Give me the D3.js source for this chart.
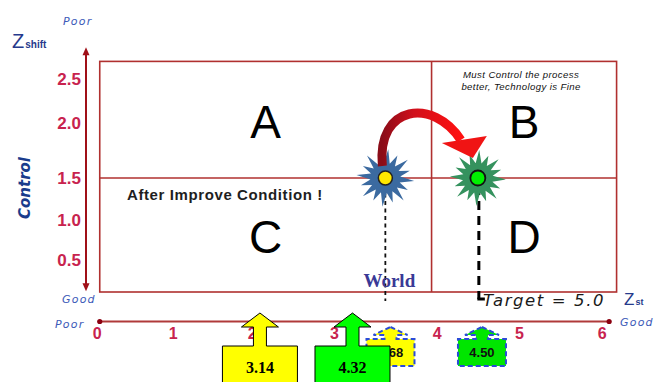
<!DOCTYPE html>
<html>
<head>
<meta charset="utf-8">
<script src="https://cdn.jsdelivr.net/npm/d3@7"></script>
<style>
  html, body { margin: 0; padding: 0; background: #fff; }
  svg { display: block; }
</style>
</head>
<body>
<svg id="chart" width="655" height="382"></svg>
<script>
// ---------------- data ----------------
const xTicks = [0, 1, 2, 3, 4, 5, 6];
const yTicks = [0.5, 1.0, 1.5, 2.0, 2.5];
const xDomain = [0.04, 6.18];          // quadrant box extent in Z_st
const yDomain = [0.1, 2.7];            // quadrant box extent in Z_shift
const xAxisExtent = [0.04, 6.09];
const yAxisExtent = [0.11, 2.86];
const zstThreshold = 3.95;
const zshiftThreshold = 1.5;
const quadrantLetters = ["A", "B", "C", "D"];
const quadrantNote = ["Must Control the process", "better, Technology is Fine"];
const pointNames = ["World", "Target"];
const pointZst = [3.5, 4.5];
const pointZshift = [1.5, 1.5];
const arrowBoxLabels = ["3.14", "4.32"];
const arrowBoxZst = [2.1, 3.18];
const calloutLabels = ["3.68", "4.50"];
const calloutZst = [3.55, 4.55];
const targetLabel = "Target = 5.0";
const afterLabel = "After Improve Condition !";

// ---------------- scales ----------------
const x = d3.scaleLinear()
  .domain(xTicks)
  .range([96.7, 172.7, 251.7, 334, 436.7, 519, 601.7]);
const y = d3.scaleLinear()
  .domain(yTicks)
  .range([260, 220, 178, 123, 79]);

const svg = d3.select("#chart");
const defs = svg.append("defs");
const grad = defs.append("linearGradient").attr("id", "redGrad")
  .attr("x1", "0%").attr("x2", "100%").attr("y1", "0%").attr("y2", "0%");
grad.append("stop").attr("offset", "0%").attr("stop-color", "#8a0c18");
grad.append("stop").attr("offset", "40%").attr("stop-color", "#d0101c");
grad.append("stop").attr("offset", "100%").attr("stop-color", "#ff1010");

const boxColor = "#b0302f";
const tickColor = "#c8234e";
const blueLabel = "#3d5ab8";
const navy = "#263a8c";

// ---------------- quadrant box ----------------
const bx0 = x(xDomain[0]), bx1 = x(xDomain[1]);
const by0 = y(yDomain[1]), by1 = y(yDomain[0]);
svg.append("rect")
  .attr("x", bx0).attr("y", by0)
  .attr("width", bx1 - bx0).attr("height", by1 - by0)
  .attr("fill", "none").attr("stroke", boxColor).attr("stroke-width", 1.6);
svg.append("line")
  .attr("x1", x(zstThreshold)).attr("x2", x(zstThreshold))
  .attr("y1", by0).attr("y2", by1)
  .attr("stroke", boxColor).attr("stroke-width", 1.6);
svg.append("line")
  .attr("x1", bx0).attr("x2", bx1)
  .attr("y1", y(zshiftThreshold)).attr("y2", y(zshiftThreshold))
  .attr("stroke", boxColor).attr("stroke-width", 1.6);

// quadrant letters at quadrant centres
const qx = [(bx0 + x(zstThreshold)) / 2, (x(zstThreshold) + bx1) / 2];
const qy = [(by0 + y(zshiftThreshold)) / 2 + 2, (y(zshiftThreshold) + by1) / 2 + 2];
quadrantLetters.forEach((L, i) => {
  svg.append("text")
    .attr("x", qx[i % 2]).attr("y", qy[Math.floor(i / 2)])
    .attr("text-anchor", "middle").attr("dominant-baseline", "central")
    .attr("font-family", "Liberation Sans, Arial, sans-serif")
    .attr("font-size", 46).attr("fill", "#000").text(L);
});

// note in quadrant B
quadrantNote.forEach((t, i) => {
  svg.append("text")
    .attr("x", qx[1] - 3).attr("y", by0 + 17 + i * 12)
    .attr("text-anchor", "middle")
    .attr("font-family", "Liberation Sans, Arial, sans-serif")
    .attr("font-style", "italic").attr("font-size", 9.6)
    .attr("letter-spacing", 0.4)
    .attr("fill", "#111").text(t);
});

// ---------------- Y axis (double arrow) ----------------
const yAxisX = 86;
const ya0 = y(yAxisExtent[1]), ya1 = y(yAxisExtent[0]);
svg.append("line")
  .attr("x1", yAxisX).attr("x2", yAxisX).attr("y1", ya0 + 3).attr("y2", ya1 - 3)
  .attr("stroke", "#a01018").attr("stroke-width", 2);
svg.append("path")
  .attr("d", `M${yAxisX},${ya0} L${yAxisX - 3.5},${ya0 + 8} L${yAxisX + 3.5},${ya0 + 8} Z`)
  .attr("fill", "#a01018");
svg.append("path")
  .attr("d", `M${yAxisX},${ya1} L${yAxisX - 3.5},${ya1 - 8} L${yAxisX + 3.5},${ya1 - 8} Z`)
  .attr("fill", "#a01018");

const yAxisG = svg.append("g").attr("transform", "translate(84,0)")
  .call(d3.axisLeft(y).tickValues(yTicks).tickSize(0).tickPadding(3)
    .tickFormat(d3.format(".1f")));
yAxisG.select(".domain").remove();
yAxisG.selectAll("text")
  .attr("font-family", "Liberation Sans, Arial, sans-serif")
  .attr("font-weight", "bold").attr("font-size", 17)
  .attr("fill", tickColor).attr("dy", "0.3em");

// ---------------- X axis ----------------
const xAxisY = 321.5;
svg.append("line")
  .attr("x1", x(xAxisExtent[0])).attr("x2", x(xAxisExtent[1]))
  .attr("y1", xAxisY).attr("y2", xAxisY)
  .attr("stroke", "#b03a3a").attr("stroke-width", 2);
xAxisExtent.forEach(v => {
  svg.append("circle").attr("cx", x(v)).attr("cy", xAxisY).attr("r", 2.6)
    .attr("fill", "#8b0010");
});
const xAxisG = svg.append("g").attr("transform", `translate(0,${xAxisY + 6})`)
  .call(d3.axisBottom(x).tickValues(xTicks).tickSize(0).tickPadding(0)
    .tickFormat(d3.format("d")));
xAxisG.select(".domain").remove();
xAxisG.selectAll("text")
  .attr("font-family", "Liberation Sans, Arial, sans-serif")
  .attr("font-weight", "bold").attr("font-size", 16)
  .attr("fill", tickColor).attr("dy", "0.7em");

// ---------------- axis titles ----------------
function italicBlue(txt, px, py, anchor) {
  svg.append("text").attr("x", px).attr("y", py)
    .attr("text-anchor", anchor || "start")
    .attr("font-family", "DejaVu Sans, Verdana, sans-serif")
    .attr("font-style", "italic").attr("font-size", 11)
    .attr("letter-spacing", 1.2)
    .attr("fill", blueLabel).text(txt);
}
italicBlue("Poor", 63, 25);
italicBlue("Good", 62, 303);
italicBlue("Poor", 55, 328);
italicBlue("Good", 620, 326);

const zs = svg.append("text").attr("x", 12).attr("y", 48)
  .attr("font-family", "Liberation Sans, Arial, sans-serif").attr("fill", navy);
zs.append("tspan").attr("font-size", 20).text("Z");
zs.append("tspan").attr("font-size", 10).attr("font-weight", "bold").attr("dx", 1).text("shift");

const zst = svg.append("text").attr("x", 624).attr("y", 305)
  .attr("font-family", "Liberation Sans, Arial, sans-serif").attr("fill", navy);
zst.append("tspan").attr("font-size", 17).text("Z");
zst.append("tspan").attr("font-size", 9).attr("font-weight", "bold").attr("dx", 1).text("st");

svg.append("text")
  .attr("transform", "translate(30,188) rotate(-90)")
  .attr("text-anchor", "middle")
  .attr("font-family", "DejaVu Sans, sans-serif")
  .attr("font-style", "italic").attr("font-weight", "bold")
  .attr("font-size", 15).attr("fill", "#1a3c8c").text("Control");

// ---------------- After improve label ----------------
svg.append("text").attr("x", 127).attr("y", 200)
  .attr("font-family", "Liberation Sans, Arial, sans-serif")
  .attr("font-weight", "bold").attr("font-size", 15)
  .attr("letter-spacing", 0.6).attr("fill", "#1e1e1e").text(afterLabel);

// ---------------- points ----------------
const P = pointZst.map((v, i) => ({ x: x(v), y: y(pointZshift[i]) }));

// dashed drop lines
svg.append("line")
  .attr("x1", P[0].x).attr("x2", P[0].x).attr("y1", P[0].y + 8).attr("y2", 301)
  .attr("stroke", "#111").attr("stroke-width", 1.8).attr("stroke-dasharray", "4,3.5");
svg.append("text").attr("x", P[0].x + 4).attr("y", 287)
  .attr("text-anchor", "middle")
  .attr("font-family", "Liberation Serif, Times New Roman, serif")
  .attr("font-weight", "bold").attr("font-size", 19)
  .attr("fill", "#3a3a96").text(pointNames[0]);
svg.append("line")
  .attr("x1", P[1].x + 1).attr("x2", P[1].x + 1).attr("y1", P[1].y + 8).attr("y2", 299)
  .attr("stroke", "#000").attr("stroke-width", 3).attr("stroke-dasharray", "9,6");
svg.append("line")
  .attr("x1", P[1].x - 0.5).attr("x2", P[1].x + 7).attr("y1", 299).attr("y2", 299)
  .attr("stroke", "#000").attr("stroke-width", 3);

svg.append("text").attr("x", 483).attr("y", 306)
  .attr("font-family", "DejaVu Sans, sans-serif")
  .attr("font-style", "italic").attr("font-size", 16.5)
  .attr("letter-spacing", 1.6).attr("fill", "#1a1a1a").text(targetLabel);

// starbursts
function burst(cx, cy, rOut, rIn, n, color, rot) {
  const pts = d3.range(n * 2).map(k => {
    const a = rot + k * Math.PI / n;
    const r = (k % 2 === 0) ? rOut * (k % 4 === 0 ? 1 : 0.88) : rIn;
    return [cx + r * Math.sin(a), cy - r * Math.cos(a)];
  });
  svg.append("path").attr("d", d3.line().curve(d3.curveLinearClosed)(pts))
    .attr("fill", color);
}
burst(P[0].x, P[0].y, 29, 15, 16, "#3b6aa0", 0.1);
burst(P[1].x, P[1].y, 28, 15, 16, "#35925e", 0.05);

// red curved arrow
const W = P[0], T = P[1];
svg.append("path")
  .attr("d", `M${W.x - 3},${W.y - 12} C${W.x - 9},${W.y - 74} ${T.x - 44},${T.y - 80} ${T.x - 17},${T.y - 38}`)
  .attr("fill", "none").attr("stroke", "url(#redGrad)").attr("stroke-width", 9);
svg.append("path")
  .attr("d", `M${T.x - 36},${T.y - 35} L${T.x + 9},${T.y - 42} L${T.x - 5},${T.y - 20} Z`)
  .attr("fill", "#f01414");

// circles
svg.append("circle").attr("cx", W.x).attr("cy", W.y).attr("r", 7)
  .attr("fill", "#ffe800").attr("stroke", "#222").attr("stroke-width", 1.5);
svg.append("circle").attr("cx", T.x).attr("cy", T.y).attr("r", 7.5)
  .attr("fill", "#00f000").attr("stroke", "#111").attr("stroke-width", 1.8);

// ---------------- dashed callouts (under the big arrow boxes) ----------------
const calloutFill = ["#ffff00", "#00e600"];
calloutZst.forEach((v, i) => {
  const cx = x(v);
  const top = 327, headY = 335, bodyY = 339, bottom = 366, hw = 24;
  const d = `M${cx},${top} L${cx + 17},${headY} L${cx + 6},${headY} L${cx + 6},${bodyY}
    L${cx + hw},${bodyY} L${cx + hw},${bottom} L${cx - hw},${bottom} L${cx - hw},${bodyY}
    L${cx - 6},${bodyY} L${cx - 6},${headY} L${cx - 17},${headY} Z`;
  svg.append("path").attr("d", d)
    .attr("fill", calloutFill[i]).attr("stroke", "#2a4bd7")
    .attr("stroke-width", 2).attr("stroke-dasharray", "5,3");
  svg.append("text").attr("x", cx).attr("y", 357)
    .attr("text-anchor", "middle")
    .attr("font-family", "Liberation Sans, Arial, sans-serif")
    .attr("font-weight", "bold").attr("font-size", 13)
    .attr("fill", "#111").text(calloutLabels[i]);
});

// ---------------- big arrow boxes ----------------
const boxFill = ["#ffff00", "#00ff00"];
arrowBoxZst.forEach((v, i) => {
  const cx = x(v);
  const tip = 313, headY = 327, boxTop = 346, boxBot = 384;
  const d = `M${cx},${tip} L${cx + 18.5},${headY} L${cx + 6.5},${headY} L${cx + 6.5},${boxTop}
    L${cx + 37.5},${boxTop} L${cx + 37.5},${boxBot} L${cx - 37.5},${boxBot} L${cx - 37.5},${boxTop}
    L${cx - 6.5},${boxTop} L${cx - 6.5},${headY} L${cx - 18.5},${headY} Z`;
  svg.append("path").attr("d", d)
    .attr("fill", boxFill[i]).attr("stroke", "#000").attr("stroke-width", 1);
  svg.append("text").attr("x", cx).attr("y", 373)
    .attr("text-anchor", "middle")
    .attr("font-family", "Liberation Serif, Times New Roman, serif")
    .attr("font-weight", "bold").attr("font-size", 16)
    .attr("fill", "#000").text(arrowBoxLabels[i]);
});
</script>
</body>
</html>
